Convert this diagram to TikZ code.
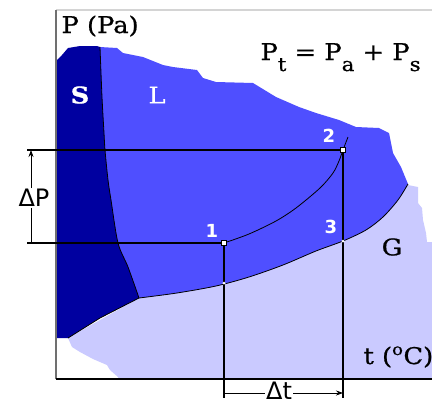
\documentclass[tikz,border=0pt]{standalone}
\usepackage{fontspec}
\setmainfont[FakeStretch=1.12, FakeBold=0.8]{DejaVu Serif}
\setsansfont{DejaVu Sans}
\usetikzlibrary{arrows.meta, positioning, calc}
\definecolor{SolidBlue}{HTML}{0000A0}
\definecolor{LiquidBlue}{HTML}{4F4FFF}
\definecolor{GasLilac}{HTML}{CACAFF}
\definecolor{FrameGray}{HTML}{D4D4D4}
\definecolor{AxisGray}{HTML}{707070}
\newcommand{\lowsub}[1]{\raisebox{-11pt}{\fontsize{19}{19}\selectfont #1}}

\begin{document}
\begin{tikzpicture}[x=1pt, y=-1pt,
    statept/.style={draw=black, line width=0.6pt, fill=white, minimum size=5pt, inner sep=0pt},
    crosspt/.style={circle, fill=white, minimum size=3pt, inner sep=0pt},
    ptlabel/.style={text=white, font=\sffamily\bfseries\fontsize{18}{18}\selectfont},
    phaselabel/.style={font=\fontsize{23}{23}\selectfont},
    dimlabel/.style={font=\sffamily\fontsize{24}{24}\selectfont, inner sep=1pt},
    guide/.style={line width=1.1pt},
    dimline/.style={line width=0.8pt},
    boundary/.style={line width=0.8pt}]
  \useasboundingbox (0,0) rectangle (432,405);
  \fill[white] (0,0) rectangle (432,405);

  % phase regions
  \fill[GasLilac] (68,338) -- (72,347) -- (80,352) -- (93,359) -- (100,362) -- (107,365)
    -- (110,370) -- (118,377) -- (119,379) -- (432,379) -- (432,242) -- (427,242)
    -- (426,233) -- (423,220) -- (422,208) -- (418,203) -- (418,187) -- (408,185)
    -- (139,298) -- cycle;
  \fill[LiquidBlue] (57,298) -- (57,60) -- (100,47) -- (117,48) -- (123,53) -- (143,57)
    -- (163,65) -- (173,67) -- (197,70) -- (203,78) -- (216,82) -- (253,83) -- (276,97)
    -- (299,107) -- (316,113) -- (339,120) -- (356,127) -- (379,128) -- (389,133)
    -- (393,153) -- (401,167) -- (408,184)
    -- plot[smooth] coordinates {(408,184) (398,200) (383,217) (366,230) (343,241)
       (316,251) (283,265) (249,277) (216,286) (177,293) (139,298)} -- cycle;
  \fill[SolidBlue] (57,60) -- (62,55) -- (68,48) -- (80,46) -- (97,46) -- (100,47)
    -- plot[smooth] coordinates {(100,47) (102,97) (104,133) (105,150) (108,180)
       (111,200) (118,243) (128,267) (139,298)}
    -- (100,318) -- (68,338) -- (57,338) -- cycle;

  \draw[boundary] plot[smooth] coordinates {(100,47) (102,97) (104,133) (105,150)
    (108,180) (111,200) (118,243) (128,267) (139,298)};
  \draw[boundary] (139,298) -- (100,318) -- (68,338);
  \draw[boundary] plot[smooth] coordinates {(139,298) (177,293) (216,286) (249,277)
    (283,265) (316,251) (343,241) (366,230) (383,217) (398,200) (408,184)};

  % axes
  \coordinate (origin) at (56,379);
  \coordinate (ytop) at (56,10);
  \coordinate (xend) at (432,379);
  \coordinate (topend) at (432,10);
  \draw[FrameGray, line width=1.5pt] (ytop) -- (topend);
  \draw[AxisGray, line width=1.2pt] (origin) -- (ytop);
  \draw[black, line width=1.2pt] (origin) -- (xend);

  % states
  \node[statept] (s1) at (224,243) {};
  \node[statept] (s2) at (343,150) {};
  \node[crosspt] (s3) at (343,241) {};
  \node[crosspt] (g1) at (224,283) {};
  \coordinate (vapend) at (348,137);
  \coordinate (yref2) at (27,150);
  \coordinate (yref1) at (27,243);
  \coordinate (xref1) at (224,398);
  \coordinate (xref2) at (343,398);

  \draw[guide] (yref2) -- (s2);
  \draw[guide] (yref1) -- (s1);
  \draw[guide] (s1) -- (xref1);
  \draw[guide] (s2) -- (xref2);
  \draw[boundary] plot[smooth] coordinates {(s1) (249,234) (276,221) (296,208)
    (320,188) (333,173) (339,161) (s2) (vapend)};
  \node[statept] at (s1) {};
  \node[statept] at (s2) {};
  \node[crosspt] at (s3) {};
  \node[crosspt] at (g1) {};

  % labels
  \node[phaselabel, anchor=base west] (pax) at (58,33) {P (Pa)};
  \node[phaselabel, anchor=base west] (teq) at (257,60)
    {P\lowsub{t} = P\lowsub{a} + P\lowsub{s}};
  \node[phaselabel, anchor=base west] (tax) at (360,364) {t (\textsuperscript{o}C)};
  \node[phaselabel, text=white, font=\bfseries\fontsize{23}{23}\selectfont] (solid) at (80,95) {S};
  \node[phaselabel, text=white] (liquid) at (157,95) {L};
  \node[phaselabel] (gas) at (392,247) {G};
  \node[ptlabel] (n1) at (212,231) {1};
  \node[ptlabel] (n2) at (329,136) {2};
  \node[ptlabel] (n3) at (331,227) {3};

  % differences
  \node[dimlabel] (dP) at (34,198) {ΔP};
  \coordinate (dPtop) at (31,150);
  \coordinate (dPbot) at (31,244);
  \draw[dimline, -{Stealth[length=7pt, width=5pt]}] (dP.north -| dPtop) -- (dPtop);
  \draw[dimline] (dP.south -| dPbot) -- (dPbot);
  \node[dimlabel] (dt) at (279,391) {Δt};
  \coordinate (dtleft) at (224,393);
  \coordinate (dtright) at (343,393);
  \draw[dimline] (dt.west |- dtleft) -- (dtleft);
  \draw[dimline, -{Stealth[length=7pt, width=5pt]}] (dt.east |- dtright) -- (dtright);
\end{tikzpicture}
\end{document}
